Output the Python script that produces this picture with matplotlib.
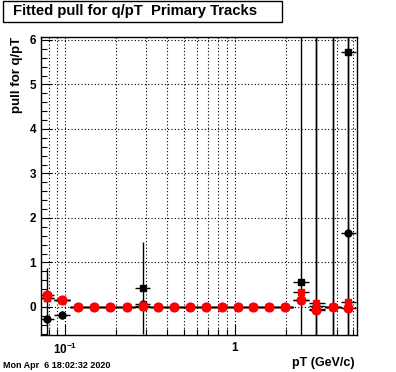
import numpy as np
import matplotlib
matplotlib.use('Agg')
import matplotlib.pyplot as plt
from matplotlib.patches import Rectangle
from matplotlib.ticker import FixedLocator, FixedFormatter, NullFormatter, MultipleLocator

plt.rcParams['font.family'] = ['Liberation Sans', 'DejaVu Sans']
plt.rcParams['font.weight'] = 'bold'
plt.rcParams['mathtext.fontset'] = 'custom'
plt.rcParams['mathtext.rm'] = 'Liberation Sans:bold'
plt.rcParams['mathtext.bf'] = 'Liberation Sans:bold'
plt.rcParams['mathtext.it'] = 'Liberation Sans:bold'

# bin centres in pT (GeV/c)
pt = [0.0778, 0.0964, 0.120, 0.149, 0.185, 0.231, 0.287, 0.352, 0.438, 0.544,
      0.680, 0.841, 1.046, 1.283, 1.595, 1.995, 2.48, 3.04, 3.82, 4.68]

# black squares
blk_sq = [0.20, 0.15, 0.0, 0.0, 0.0, 0.0, 0.43, 0.0, 0.0, 0.0,
          0.0, 0.0, 0.0, 0.0, 0.0, 0.0, 0.57, 0.03, 0.0, 5.72]
blk_sq_err = [0.05, 0.05, 0.02, 0.02, 0.02, 0.02, 1.03, 0.02, 0.02, 0.02,
              0.02, 0.02, 0.02, 0.02, 0.02, 0.02, 0.05, 20.0, 20.0, 20.0]
# black circles
blk_ci = [-0.28, -0.18, 0.0, 0.0, 0.0, 0.0, 0.07, 0.0, 0.0, 0.0,
          0.0, 0.0, 0.0, 0.0, 0.0, 0.0, 0.16, -0.05, 0.0, 1.66]
blk_ci_err = [1.16, 0.10, 0.02, 0.02, 0.02, 0.02, 0.06, 0.02, 0.02, 0.02,
              0.02, 0.02, 0.02, 0.02, 0.02, 0.02, 20.0, 20.0, 20.0, 20.0]
# red squares
red_sq = [0.21, 0.15, 0.0, 0.0, 0.0, 0.0, 0.0, 0.0, 0.0, 0.0,
          0.0, 0.0, 0.0, 0.0, 0.0, 0.0, 0.34, 0.08, 0.0, 0.12]
# red circles
red_ci = [0.27, 0.16, 0.0, 0.0, 0.0, 0.0, 0.02, 0.0, 0.0, 0.0,
          0.0, 0.0, 0.0, 0.0, 0.0, 0.0, 0.16, -0.07, 0.0, -0.03]
red_err = [0.02] * len(pt)

x = np.array(pt)
mid = np.sqrt(x[:-1] * x[1:])
edges = np.concatenate([[x[0] ** 2 / mid[0]], mid, [x[-1] ** 2 / mid[-1]]])
xerr = [x - edges[:-1], edges[1:] - x]

fig = plt.figure(figsize=(3.96, 3.72), dpi=100)
ax = fig.add_axes([0.1035, 0.0995, 0.798, 0.8015])

common = dict(xerr=xerr, linestyle='none', ecolor='black', elinewidth=1.0, capsize=0)
ax.errorbar(x, blk_sq, yerr=blk_sq_err, fmt='s', color='black', ms=4.5, **common)
ax.errorbar(x, blk_ci, yerr=blk_ci_err, fmt='o', color='black', ms=5, **common)
ax.errorbar(x, red_sq, yerr=red_err, fmt='s', color='red', ms=4.8, **common)
ax.errorbar(x, red_ci, yerr=red_err, fmt='o', color='red', ms=6.3, **common)

ax.set_xscale('log')
ax.set_xlim(0.0721, 5.27)
ax.set_ylim(-0.63, 6.07)

ax.xaxis.set_major_locator(FixedLocator([0.1, 1]))
ax.xaxis.set_major_formatter(FixedFormatter([r'$10^{-1}$', '1']))
ax.xaxis.set_minor_locator(FixedLocator([0.08, 0.09, 0.2, 0.3, 0.4, 0.5, 0.6, 0.7, 0.8, 0.9, 2, 3, 4, 5]))
ax.xaxis.set_minor_formatter(NullFormatter())
ax.yaxis.set_major_locator(MultipleLocator(1))
ax.yaxis.set_minor_locator(MultipleLocator(0.2))

ax.tick_params(which='both', direction='in', top=False, right=False, labelsize=8.5, width=0.8)
ax.tick_params(which='major', length=8)
ax.tick_params(which='minor', length=4)
ax.tick_params(axis='x', pad=5)
for lbl in ax.get_xticklabels() + ax.get_yticklabels():
    lbl.set_fontweight('bold')

ax.grid(True, which='major', color='black', linestyle=(0, (1, 2)), linewidth=0.8)
ax.grid(True, which='minor', axis='x', color='black', linestyle=(0, (1, 2)), linewidth=0.8)
for sp in ax.spines.values():
    sp.set_linewidth(1.0)

ax.set_ylabel('pull for q/pT', fontsize=9.5, fontweight='bold', loc='top', labelpad=5)
fig.text(355 / 396, 1 - 363 / 372, 'pT (GeV/c)', fontsize=9,
         fontweight='bold', va='center', ha='right')

fig.patches.append(Rectangle((3 / 396, 1 - 22 / 372), 279 / 396, 21 / 372,
                             transform=fig.transFigure, facecolor='white',
                             edgecolor='black', linewidth=1.0))
fig.text(13 / 396, 1 - 11.5 / 372, 'Fitted pull for q/pT  Primary Tracks',
         fontsize=10.7, fontweight='bold', va='center', ha='left')
fig.text(3 / 396, 1 - 366 / 372, 'Mon Apr  6 18:02:32 2020', fontsize=6.5,
         fontweight='bold', va='center', ha='left')

fig.savefig('out.png', dpi=100)
